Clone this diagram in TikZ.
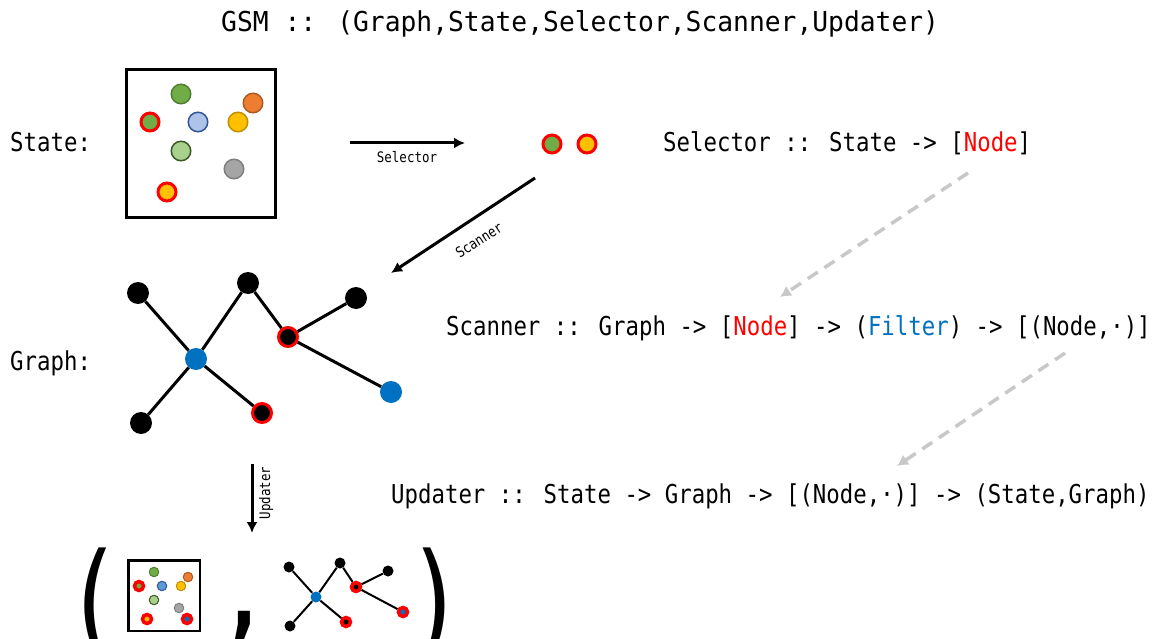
\documentclass[tikz,border=0pt]{standalone}
\usepackage{fontspec}
\newfontfamily\mainmono[FakeStretch=0.86]{DejaVu Sans Mono}
\newfontfamily\titlemono[FakeStretch=0.96]{DejaVu Sans Mono}
\newfontfamily\parenmono[FakeStretch=0.75]{DejaVu Sans Mono}
\usetikzlibrary{arrows.meta}
\definecolor{selred}{HTML}{FF0000}
\definecolor{fblue}{HTML}{0070C0}
\definecolor{gfill}{HTML}{70AD47}\definecolor{gdraw}{HTML}{507E32}
\definecolor{ofill}{HTML}{ED7D31}\definecolor{odraw}{HTML}{AE5A21}
\definecolor{bfill}{HTML}{ADC3E8}\definecolor{bdraw}{HTML}{2F5597}
\definecolor{mbfill}{HTML}{5B9BD5}
\definecolor{yfill}{HTML}{FFC000}\definecolor{ydraw}{HTML}{BF9000}
\definecolor{lgfill}{HTML}{A9D18E}\definecolor{lgdraw}{HTML}{385723}
\definecolor{grfill}{HTML}{A5A5A5}\definecolor{grdraw}{HTML}{7F7F7F}
\definecolor{hintgray}{HTML}{C8C8C8}
\tikzset{
  txt/.style={inner sep=0pt, anchor=base west, font=\mainmono\fontsize{26}{30}\selectfont},
  ttl/.style={inner sep=0pt, anchor=base west, font=\titlemono\fontsize{27.4}{32}\selectfont},
  lbl/.style={inner sep=0pt, font=\mainmono\fontsize{14.5}{17}\selectfont},
  bigparen/.style={inner sep=0pt, anchor=base, font=\parenmono\fontsize{130}{150}\selectfont},
  flow/.style={line width=3pt, -{Latex[length=11pt,width=11pt]}},
  hint/.style={line width=3.5pt, draw=hintgray, dash pattern=on 12pt off 8pt, -{Latex[length=11pt,width=12pt]}},
  ball/.style={circle, inner sep=0pt, minimum size=19.5pt, line width=1.5pt},
  pick/.style={circle, inner sep=0pt, minimum size=18pt, line width=3pt, draw=selred},
  gnode/.style={circle, inner sep=0pt, minimum size=22pt, fill=black},
  gblue/.style={circle, inner sep=0pt, minimum size=22pt, fill=fblue},
  gpick/.style={circle, inner sep=0pt, minimum size=19pt, line width=3pt, draw=selred, fill=black},
  gedge/.style={line width=3pt},
  mball/.style={circle, inner sep=0pt, minimum size=9.5pt, line width=1pt},
  mpick/.style={circle, inner sep=0pt, minimum size=9pt, line width=3.5pt, draw=selred},
  mnode/.style={circle, inner sep=0pt, minimum size=11pt, fill=black},
  mblue/.style={circle, inner sep=0pt, minimum size=11pt, fill=fblue},
  medge/.style={line width=2pt},
}
\begin{document}
\begin{tikzpicture}[x=1pt,y=-1pt]
\useasboundingbox (0,0) rectangle (1158,639);
\clip (0,0) rectangle (1158,639);

% title and texts
\node[ttl] (title) at (221,32) {GSM :: (Graph,State,Selector,Scanner,Updater)};
\node[txt] (statelbl) at (10,152) {State:};
\node[txt] (graphlbl) at (10,370) {Graph:};
\node[txt] (seltype) at (663,152) {Selector :: State -> [\textcolor{selred}{Node}]};
\node[txt] (scantype) at (446,335) {Scanner :: Graph -> [\textcolor{selred}{Node}] -> (\textcolor{fblue}{Filter}) -> [(Node,·)]};
\node[txt] (updtype) at (391,503) {Updater :: State -> Graph -> [(Node,·)] -> (State,Graph)};

% state box
\node[draw, line width=3pt, minimum width=149pt, minimum height=148pt, inner sep=0pt] (statebox) at (201,143.5) {};
\node[ball, fill=gfill, draw=gdraw] (s1) at (181,94) {};
\node[ball, fill=ofill, draw=odraw] (s2) at (253,103) {};
\node[pick, fill=gfill] (s3) at (150,122) {};
\node[ball, fill=bfill, draw=bdraw] (s4) at (198,122) {};
\node[ball, fill=yfill, draw=ydraw] (s5) at (238,122) {};
\node[ball, fill=lgfill, draw=lgdraw] (s6) at (181,151) {};
\node[ball, fill=grfill, draw=grdraw] (s7) at (234,169) {};
\node[pick, fill=yfill] (s8) at (167,192) {};

% selected
\node[pick, fill=gfill] (p1) at (552,144) {};
\node[pick, fill=yfill] (p2) at (587,144) {};

% selector arrow
\coordinate (selA) at (350,143);
\coordinate (selB) at (465,143);
\draw[flow] (selA) -- (selB);
\node[lbl] (sellbl) at (407,157) {Selector};

% scanner arrow
\coordinate (scA) at (535,178);
\coordinate (scB) at (391,273);
\draw[flow] (scA) -- (scB);
\node[lbl, rotate=33] (scanlbl) at (479,240) {Scanner};

% graph
\node[gnode] (gA) at (138,293) {};
\node[gnode] (gB) at (248,283) {};
\node[gnode] (gC) at (356,298) {};
\node[gpick] (gD) at (288,337) {};
\node[gblue] (gE) at (196,359) {};
\node[gblue] (gF) at (391,392) {};
\node[gpick] (gG) at (262,413) {};
\node[gnode] (gH) at (141,423) {};
\draw[gedge] (gA) -- (gE);
\draw[gedge] (gE) -- (gB);
\draw[gedge] (gB) -- (gD);
\draw[gedge] (gD) -- (gC);
\draw[gedge] (gD) -- (gF);
\draw[gedge] (gE) -- (gG);
\draw[gedge] (gE) -- (gH);

% hints
\coordinate (h1a) at (968,173);
\coordinate (h1b) at (780,297);
\draw[hint] (h1a) -- (h1b);
\coordinate (h2a) at (1065,353);
\coordinate (h2b) at (897,466);
\draw[hint] (h2a) -- (h2b);

% updater arrow
\coordinate (upA) at (252,464);
\coordinate (upB) at (252,533);
\draw[flow] (upA) -- (upB);
\node[lbl, rotate=90] (updlbl) at (266,493) {Updater};

% result tuple
\node[bigparen] (lp) at (94,646) {(};
\node[bigparen] (comma) at (244,630) {,};
\node[bigparen] (rp) at (436,646) {)};

% mini state
\node[draw, line width=2.5pt, minimum width=71.5pt, minimum height=70.5pt, inner sep=0pt] (ministate) at (164,595.5) {};
\node[mball, fill=gfill, draw=gdraw] (m1) at (154,572) {};
\node[mball, fill=ofill, draw=odraw] (m2) at (188,577) {};
\node[mpick, fill=gfill] (m3) at (139,586) {};
\node[mball, fill=mbfill, draw=bdraw] (m4) at (162,586) {};
\node[mball, fill=yfill, draw=ydraw] (m5) at (181,586) {};
\node[mball, fill=lgfill, draw=lgdraw] (m6) at (154,600) {};
\node[mball, fill=grfill, draw=grdraw] (m7) at (179,608) {};
\node[mpick, fill=yfill] (m8) at (147,619) {};
\node[mpick, fill=fblue] (m9) at (187,619) {};

% mini graph
\node[mnode] (nA) at (289,567) {};
\node[mnode] (nB) at (340,563) {};
\node[mnode] (nC) at (388,571) {};
\node[mpick, fill=black] (nD) at (356,587) {};
\node[mblue] (nE) at (316,597) {};
\node[mpick, fill=fblue] (nF) at (403,612) {};
\node[mpick, fill=black] (nG) at (346,622) {};
\node[mnode] (nH) at (290,626) {};
\draw[medge] (nA) -- (nE);
\draw[medge] (nE) -- (nB);
\draw[medge] (nB) -- (nD);
\draw[medge] (nD) -- (nC);
\draw[medge] (nD) -- (nF);
\draw[medge] (nE) -- (nG);
\draw[medge] (nE) -- (nH);
\end{tikzpicture}
\end{document}
